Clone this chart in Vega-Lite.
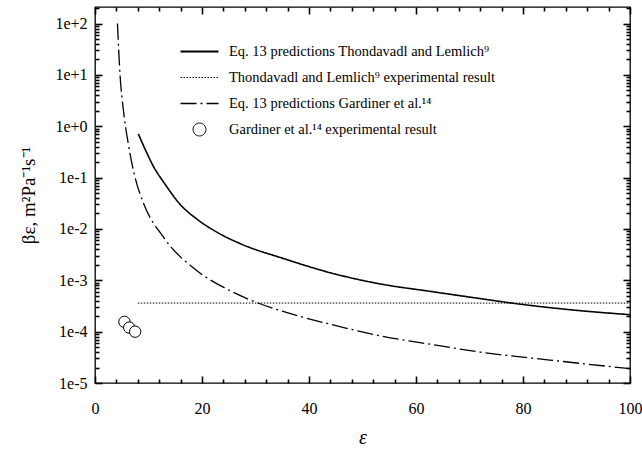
{
  "$schema": "https://vega.github.io/schema/vega-lite/v6.json",
  "width": 535,
  "height": 376,
  "autosize": "none",
  "padding": {"left": 95, "top": 7, "right": 12, "bottom": 69},
  "background": "white",
  "config": {
    "font": "Liberation Serif, Times New Roman, serif",
    "view": {"stroke": "black", "strokeWidth": 1.3},
    "axis": {
      "grid": false,
      "domain": false,
      "ticks": true,
      "zindex": 1,
      "tickColor": "#000000",
      "tickOpacity": 1,
      "tickWidth": 1.6,
      "labelFont": "Liberation Serif, Times New Roman, serif",
      "labelFontSize": 16,
      "labelColor": "black",
      "titleFont": "Liberation Serif, Times New Roman, serif",
      "titleColor": "black",
      "titleFontWeight": "normal"
    },
    "legend": {
      "labelFont": "Liberation Serif, Times New Roman, serif"
    }
  },
  "datasets": {
    "thondavadl_model": [
      {"series": "Eq. 13 predictions Thondavadl and Lemlich⁹", "eps": 8.1, "beta": 0.71},
      {"series": "Eq. 13 predictions Thondavadl and Lemlich⁹", "eps": 9.35, "beta": 0.36},
      {"series": "Eq. 13 predictions Thondavadl and Lemlich⁹", "eps": 10.9, "beta": 0.167},
      {"series": "Eq. 13 predictions Thondavadl and Lemlich⁹", "eps": 13.1, "beta": 0.0743},
      {"series": "Eq. 13 predictions Thondavadl and Lemlich⁹", "eps": 15.9, "beta": 0.0302},
      {"series": "Eq. 13 predictions Thondavadl and Lemlich⁹", "eps": 19.0, "beta": 0.0157},
      {"series": "Eq. 13 predictions Thondavadl and Lemlich⁹", "eps": 23.0, "beta": 0.0084},
      {"series": "Eq. 13 predictions Thondavadl and Lemlich⁹", "eps": 27.1, "beta": 0.0052},
      {"series": "Eq. 13 predictions Thondavadl and Lemlich⁹", "eps": 35.5, "beta": 0.0026},
      {"series": "Eq. 13 predictions Thondavadl and Lemlich⁹", "eps": 44.0, "beta": 0.0014},
      {"series": "Eq. 13 predictions Thondavadl and Lemlich⁹", "eps": 53.3, "beta": 0.00085},
      {"series": "Eq. 13 predictions Thondavadl and Lemlich⁹", "eps": 62.6, "beta": 0.00061},
      {"series": "Eq. 13 predictions Thondavadl and Lemlich⁹", "eps": 72.0, "beta": 0.00044},
      {"series": "Eq. 13 predictions Thondavadl and Lemlich⁹", "eps": 78.8, "beta": 0.00035},
      {"series": "Eq. 13 predictions Thondavadl and Lemlich⁹", "eps": 90.0, "beta": 0.00026},
      {"series": "Eq. 13 predictions Thondavadl and Lemlich⁹", "eps": 100.0, "beta": 0.000214}
    ],
    "thondavadl_measured": [
      {"series": "Thondavadl and Lemlich⁹ experimental result", "eps": 8.0, "beta": 0.00036},
      {"series": "Thondavadl and Lemlich⁹ experimental result", "eps": 100.0, "beta": 0.00036}
    ],
    "gardiner_model": [
      {"series": "Eq. 13 predictions Gardiner et al.¹⁴", "eps": 4.2, "beta": 100},
      {"series": "Eq. 13 predictions Gardiner et al.¹⁴", "eps": 4.7, "beta": 9.3},
      {"series": "Eq. 13 predictions Gardiner et al.¹⁴", "eps": 5.3, "beta": 2.1},
      {"series": "Eq. 13 predictions Gardiner et al.¹⁴", "eps": 6.2, "beta": 0.47},
      {"series": "Eq. 13 predictions Gardiner et al.¹⁴", "eps": 7.5, "beta": 0.1},
      {"series": "Eq. 13 predictions Gardiner et al.¹⁴", "eps": 9.0, "beta": 0.033},
      {"series": "Eq. 13 predictions Gardiner et al.¹⁴", "eps": 12.8, "beta": 0.0069},
      {"series": "Eq. 13 predictions Gardiner et al.¹⁴", "eps": 19.0, "beta": 0.00155},
      {"series": "Eq. 13 predictions Gardiner et al.¹⁴", "eps": 24.6, "beta": 0.00068},
      {"series": "Eq. 13 predictions Gardiner et al.¹⁴", "eps": 30.2, "beta": 0.00037},
      {"series": "Eq. 13 predictions Gardiner et al.¹⁴", "eps": 35.0, "beta": 0.00025},
      {"series": "Eq. 13 predictions Gardiner et al.¹⁴", "eps": 43.9, "beta": 0.00014},
      {"series": "Eq. 13 predictions Gardiner et al.¹⁴", "eps": 53.3, "beta": 0.000083},
      {"series": "Eq. 13 predictions Gardiner et al.¹⁴", "eps": 62.6, "beta": 0.000057},
      {"series": "Eq. 13 predictions Gardiner et al.¹⁴", "eps": 72.0, "beta": 0.00004},
      {"series": "Eq. 13 predictions Gardiner et al.¹⁴", "eps": 85.0, "beta": 0.000028},
      {"series": "Eq. 13 predictions Gardiner et al.¹⁴", "eps": 100.0, "beta": 0.000019}
    ],
    "gardiner_measured": [
      {"series": "Gardiner et al.¹⁴ experimental result", "eps": 5.5, "beta": 0.000155},
      {"series": "Gardiner et al.¹⁴ experimental result", "eps": 6.4, "beta": 0.00012},
      {"series": "Gardiner et al.¹⁴ experimental result", "eps": 7.5, "beta": 0.0001}
    ]
  },
  "layer": [
    {
      "data": {"name": "thondavadl_model"},
      "mark": {"type": "line", "color": "black", "strokeWidth": 1.6, "interpolate": "monotone", "clip": true},
      "encoding": {
        "x": {
          "field": "eps", "type": "quantitative",
          "scale": {"domain": [0, 100], "nice": false, "zero": false},
          "axis": {
            "orient": "bottom",
            "values": [0, 20, 40, 60, 80, 100],
            "format": "d",
            "offset": -7,
            "ticks": true, "tickSize": 7, "tickWidth": 1.6, "tickColor": "#000000",
            "labelPadding": 17,
            "labelFlush": false,
            "labelOverlap": false,
            "title": "ε",
            "titleFontSize": 20,
            "titleFontStyle": "italic",
            "titlePadding": 11
          }
        },
        "y": {
          "field": "beta", "type": "quantitative",
          "scale": {"type": "log", "domain": [0.00001, 210], "nice": false},
          "axis": {
            "orient": "left",
            "values": [0.00001, 0.0001, 0.001, 0.01, 0.1, 1, 10, 100],
            "labelExpr": "'1e' + (round(log(datum.value) / LN10) >= 0 ? '+' : '') + round(log(datum.value) / LN10)",
            "offset": -7,
            "ticks": true, "tickSize": 7, "tickWidth": 1.6, "tickColor": "#000000",
            "labelPadding": 8,
            "labelOverlap": false,
            "labelFlush": false,
            "title": "βε, m²Pa⁻¹s⁻¹",
            "titleFontSize": 19,
            "titlePadding": 16
          }
        },
        "strokeDash": {
          "field": "series", "type": "nominal",
          "scale": {
            "domain": ["Eq. 13 predictions Thondavadl and Lemlich⁹", "Thondavadl and Lemlich⁹ experimental result", "Eq. 13 predictions Gardiner et al.¹⁴", "Gardiner et al.¹⁴ experimental result"],
            "range": [[1, 0], [1.5, 1.5], [16, 4, 2, 4], [1, 0]]
          },
          "legend": {
            "orient": "none",
            "legendX": 85,
            "legendY": 25,
            "title": null,
            "padding": 0,
            "symbolType": "stroke",
            "symbolSize": 1444,
            "symbolStrokeColor": "black",
            "symbolStrokeWidth": 1.5,
            "labelFontSize": 14.5,
            "labelColor": "black",
            "labelOffset": 10,
            "labelLimit": 0,
            "rowPadding": -15.5,
            "encode": {
              "symbols": {
                "update": {
                  "shape": {"signal": "(datum.value === 'Gardiner et al.¹⁴ experimental result' ? 'M -0.34,0 A 0.34,0.34 0 1,0 0.34,0 A 0.34,0.34 0 1,0 -0.34,0 Z' : 'stroke')"},
                  "strokeWidth": {"signal": "(datum.value === 'Eq. 13 predictions Thondavadl and Lemlich⁹' ? 1.8 : (datum.value === 'Eq. 13 predictions Gardiner et al.¹⁴' ? 1.3 : 1))"},
                  "fill": {"value": "transparent"},
                  "stroke": {"value": "black"}
                }
              }
            }
          }
        }
      }
    },
    {
      "data": {"name": "gardiner_model"},
      "mark": {"type": "line", "color": "black", "strokeWidth": 1.3, "strokeDash": [16, 4, 2, 4], "interpolate": "monotone", "clip": true},
      "encoding": {
        "x": {
          "field": "eps", "type": "quantitative",
          "scale": {"domain": [0, 100], "nice": false, "zero": false},
          "axis": {
            "orient": "top", "values": [0, 20, 40, 60, 80, 100], "offset": -7,
            "ticks": true, "tickSize": 7, "tickWidth": 1.6, "tickColor": "#000000",
            "labels": false, "title": null
          }
        },
        "y": {
          "field": "beta", "type": "quantitative",
          "scale": {"type": "log", "domain": [0.00001, 210], "nice": false},
          "axis": {
            "orient": "right", "values": [0.00001, 0.0001, 0.001, 0.01, 0.1, 1, 10, 100], "offset": -7,
            "ticks": true, "tickSize": 7, "tickWidth": 1.6, "tickColor": "#000000",
            "labels": false, "title": null
          }
        }
      }
    },
    {
      "data": {"name": "thondavadl_measured"},
      "mark": {"type": "line", "color": "black", "strokeWidth": 1, "strokeDash": [1.5, 1.5], "clip": true},
      "encoding": {
        "x": {
          "field": "eps", "type": "quantitative",
          "scale": {"domain": [0, 100], "nice": false, "zero": false},
          "axis": {
            "orient": "bottom",
            "values": [4, 8, 12, 16, 24, 28, 32, 36, 44, 48, 52, 56, 64, 68, 72, 76, 84, 88, 92, 96],
            "offset": -4,
            "ticks": true, "tickSize": 4, "tickWidth": 1.6, "tickColor": "#000000",
            "labels": false, "title": null
          }
        },
        "y": {
          "field": "beta", "type": "quantitative",
          "scale": {"type": "log", "domain": [0.00001, 210], "nice": false},
          "axis": {
            "orient": "left",
            "values": [0.00002, 0.00003, 0.00004, 0.00005, 0.00006, 0.00007, 0.00008, 0.00009,
                       0.0002, 0.0003, 0.0004, 0.0005, 0.0006, 0.0007, 0.0008, 0.0009,
                       0.002, 0.003, 0.004, 0.005, 0.006, 0.007, 0.008, 0.009,
                       0.02, 0.03, 0.04, 0.05, 0.06, 0.07, 0.08, 0.09,
                       0.2, 0.3, 0.4, 0.5, 0.6, 0.7, 0.8, 0.9,
                       2, 3, 4, 5, 6, 7, 8, 9,
                       20, 30, 40, 50, 60, 70, 80, 90, 200],
            "offset": -4,
            "ticks": true, "tickSize": 4, "tickWidth": 1.6, "tickColor": "#000000",
            "labels": false, "title": null
          }
        }
      }
    },
    {
      "data": {"name": "gardiner_measured"},
      "mark": {"type": "point", "shape": "circle", "size": 130, "filled": true, "fill": "white", "stroke": "black", "strokeWidth": 1, "opacity": 1},
      "encoding": {
        "x": {
          "field": "eps", "type": "quantitative",
          "scale": {"domain": [0, 100], "nice": false, "zero": false},
          "axis": {
            "orient": "top",
            "values": [4, 8, 12, 16, 24, 28, 32, 36, 44, 48, 52, 56, 64, 68, 72, 76, 84, 88, 92, 96],
            "offset": -4,
            "ticks": true, "tickSize": 4, "tickWidth": 1.6, "tickColor": "#000000",
            "labels": false, "title": null
          }
        },
        "y": {
          "field": "beta", "type": "quantitative",
          "scale": {"type": "log", "domain": [0.00001, 210], "nice": false},
          "axis": {
            "orient": "right",
            "values": [0.00002, 0.00003, 0.00004, 0.00005, 0.00006, 0.00007, 0.00008, 0.00009,
                       0.0002, 0.0003, 0.0004, 0.0005, 0.0006, 0.0007, 0.0008, 0.0009,
                       0.002, 0.003, 0.004, 0.005, 0.006, 0.007, 0.008, 0.009,
                       0.02, 0.03, 0.04, 0.05, 0.06, 0.07, 0.08, 0.09,
                       0.2, 0.3, 0.4, 0.5, 0.6, 0.7, 0.8, 0.9,
                       2, 3, 4, 5, 6, 7, 8, 9,
                       20, 30, 40, 50, 60, 70, 80, 90, 200],
            "offset": -4,
            "ticks": true, "tickSize": 4, "tickWidth": 1.6, "tickColor": "#000000",
            "labels": false, "title": null
          }
        }
      }
    }
  ],
  "resolve": {
    "scale": {"x": "independent", "y": "independent"},
    "axis": {"x": "independent", "y": "independent"}
  }
}
